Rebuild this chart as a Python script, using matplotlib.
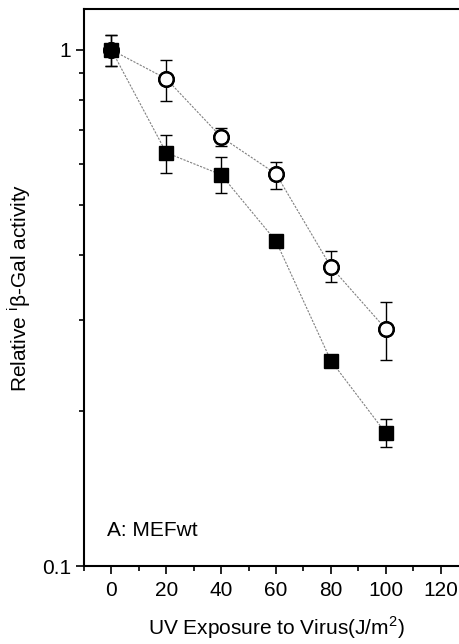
import matplotlib
matplotlib.use("Agg")
import matplotlib.pyplot as plt
from matplotlib.ticker import LogLocator, NullFormatter, FixedLocator

plt.rcParams['font.family'] = ['Liberation Sans', 'DejaVu Sans']

uv = [0, 20, 40, 60, 80, 100]
open_vals = [1.0, 0.879, 0.678, 0.575, 0.380, 0.288]
open_lo = [0.93, 0.796, 0.651, 0.538, 0.355, 0.251]
open_hi = [1.07, 0.956, 0.706, 0.607, 0.407, 0.325]
filled_vals = [1.0, 0.632, 0.573, 0.426, 0.250, 0.181]
filled_lo = [0.93, 0.578, 0.528, 0.426, 0.250, 0.170]
filled_hi = [1.07, 0.684, 0.621, 0.426, 0.250, 0.193]
xticks = [0, 20, 40, 60, 80, 100, 120]

fig = plt.figure(figsize=(4.6, 6.44), dpi=100)
ax = fig.add_axes([84/460, 78/644, 384/460, 557/644])

def errs(v, lo, hi):
    return [[a - b for a, b in zip(v, lo)], [b - a for a, b in zip(v, hi)]]

line_kw = dict(color='0.5', lw=0.8, ls=(0, (2, 1.2)))
ax.plot(uv, open_vals, zorder=1, **line_kw)
ax.plot(uv, filled_vals, zorder=1, **line_kw)

ax.errorbar(uv, open_vals, yerr=errs(open_vals, open_lo, open_hi), fmt='none',
            ecolor='black', elinewidth=1.0, capsize=4, capthick=1.0, zorder=2)
ax.errorbar(uv, filled_vals, yerr=errs(filled_vals, filled_lo, filled_hi), fmt='none',
            ecolor='black', elinewidth=1.0, capsize=4, capthick=1.0, zorder=2)

ax.plot(uv, open_vals, 'o', ms=10.5, mfc='white', mec='black', mew=1.6, ls='none', zorder=3)
ax.plot(uv, filled_vals, 's', ms=9.5, mfc='black', mec='black', ls='none', zorder=4)
ax.plot(uv, open_vals, 'o', ms=10.5, mfc='none', mec='black', mew=1.6, ls='none', zorder=5)

ax.set_yscale('log')
ax.set_xlim(-10, 130)
ax.set_ylim(0.1, 1.2)
ax.set_yticks([0.1, 1])
ax.set_yticklabels(['0.1', '1'])
ax.yaxis.set_minor_locator(LogLocator(base=10, subs=[2, 3, 4, 5, 6, 7, 8, 9]))
ax.yaxis.set_minor_formatter(NullFormatter())
ax.set_xticks(xticks)
ax.set_xticklabels([str(t) for t in xticks])
ax.xaxis.set_minor_locator(FixedLocator([-10, 10, 30, 50, 70, 90, 110, 130]))

ax.tick_params(which='major', direction='out', length=6, width=1.2, labelsize=15, pad=5)
ax.tick_params(axis='y', which='major', pad=3)
ax.tick_params(which='minor', direction='out', length=3.5, width=1.2)

for s in ['left', 'bottom', 'top']:
    ax.spines[s].set_linewidth(1.5)
ax.spines['right'].set_visible(False)

ax.set_xlabel('UV Exposure to Virus(J/m$^\\mathregular{2}$)', fontsize=15, labelpad=10)
ax.set_ylabel('Relative $^\\mathregular{i}$β-Gal activity', fontsize=15)
ax.yaxis.set_label_coords(-0.133, 0.5)

ax.text(-1.5, 0.117, 'A: MEFwt', fontsize=15, va='center', ha='left')

fig.savefig('out.png', dpi=100)
